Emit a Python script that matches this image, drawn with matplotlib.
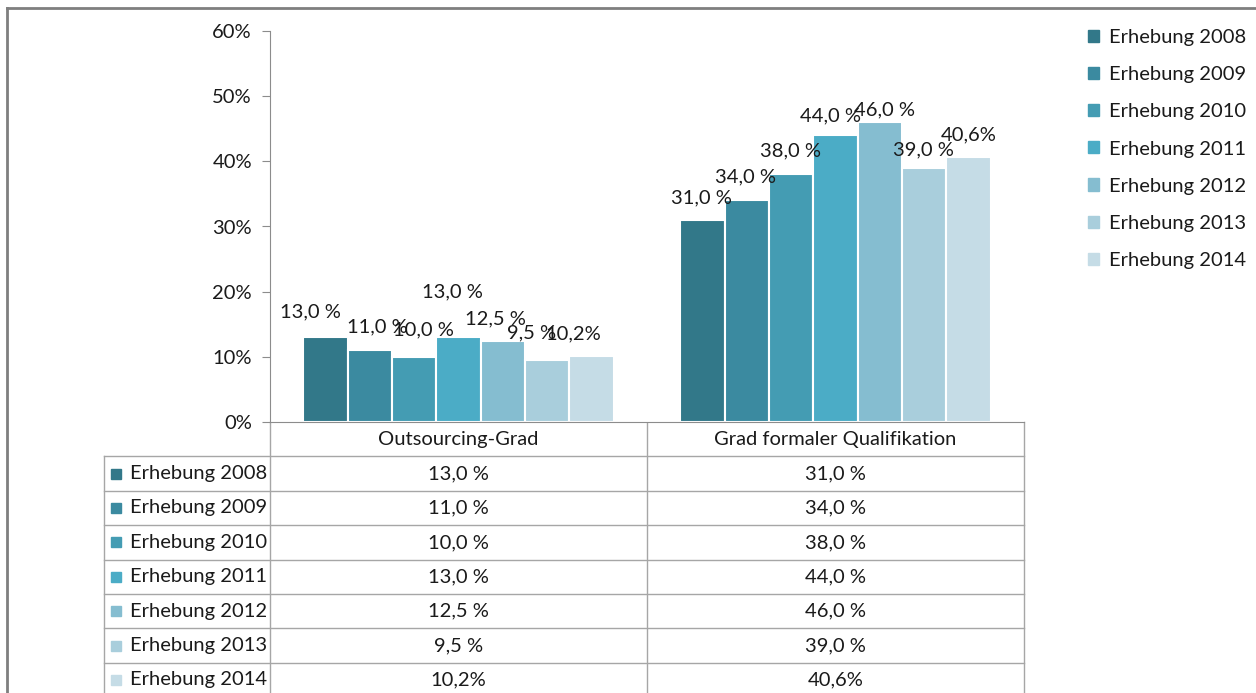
import numpy as np
import matplotlib
matplotlib.use("Agg")
import matplotlib.pyplot as plt
from matplotlib.patches import Rectangle
from matplotlib.lines import Line2D
from matplotlib.transforms import blended_transform_factory

plt.rcParams["font.family"] = ["Lato", "DejaVu Sans"]

categories = ["Outsourcing-Grad", "Grad formaler Qualifikation"]
series = ["Erhebung 2008", "Erhebung 2009", "Erhebung 2010", "Erhebung 2011",
          "Erhebung 2012", "Erhebung 2013", "Erhebung 2014"]
outsourcing = [13.0, 11.0, 10.0, 13.0, 12.5, 9.5, 10.2]
qualifikation = [31.0, 34.0, 38.0, 44.0, 46.0, 39.0, 40.6]
labels_out = ["13,0 %", "11,0 %", "10,0 %", "13,0 %", "12,5 %", "9,5 %", "10,2%"]
labels_qual = ["31,0 %", "34,0 %", "38,0 %", "44,0 %", "46,0 %", "39,0 %", "40,6%"]
colors = ["#327889", "#3B8AA0", "#449CB3", "#4BACC6", "#85BDD0", "#A9CEDC", "#C5DCE6"]

# label nudges in pixels (Excel placed a few labels off-centre)
nudge_x = [[-15, 7, 9, -6, -7, -16, -18], [-1, -1, -1, -5, 5, -1, 0]]
nudge_y = [[3, 1, 5, 23, 0, 5, 0], [0, 2, 1, -3, -10, -4, 1]]

W, H = 1256, 693
fs = 14.5
txt = "#1a1a1a"
fig = plt.figure(figsize=(W / 100, H / 100), dpi=100)

grey = "#8c8c8c"
ax = fig.add_axes([270 / W, 1 - 422 / H, (1024 - 270) / W, (422 - 31) / H])
ax.set_xlim(-0.5, 1.5)
ax.set_ylim(0, 60)
for s in ["top", "right"]:
    ax.spines[s].set_visible(False)
ax.spines["left"].set_color(grey)
ax.spines["bottom"].set_color(grey)
ax.set_yticks(np.arange(0, 61, 10))
ax.set_yticklabels([f"{v}%" for v in range(0, 61, 10)], fontsize=fs, color=txt)
ax.tick_params(axis="y", length=6, color=grey, pad=7)
ax.set_xticks([])

n = len(series)
bw = 0.1175
data = [outsourcing, qualifikation]
lab = [labels_out, labels_qual]
for i in range(n):
    xs = np.arange(2) + (i - (n - 1) / 2) * bw
    vals = [data[0][i], data[1][i]]
    ax.bar(xs, vals, width=bw, color=colors[i], edgecolor="white", linewidth=1.5, zorder=2)
    for g in range(2):
        ax.annotate(lab[g][i], (xs[g], vals[g]), xytext=(nudge_x[g][i] * 0.72, (22 + nudge_y[g][i]) * 0.72),
                    textcoords="offset points", ha="center", va="center", fontsize=fs, color=txt)

# legend on the right
handles = [Rectangle((0, 0), 1, 1, color=c) for c in colors]
fig.legend(handles, series, loc="upper left", bbox_to_anchor=(1070 / W, 1 - 11 / H), frameon=False,
           fontsize=fs, handlelength=0.55, handleheight=0.55, handletextpad=0.5, labelspacing=1.0,
           labelcolor=txt)

# data table below the chart
tab = fig.add_axes([0, 0, 1, 1], zorder=-1)
tab.set_xlim(0, W)
tab.set_ylim(H, 0)
tab.axis("off")
tr = blended_transform_factory(ax.transData, tab.transData)
line_c = "#a6a6a6"
row_h = 34.4
top = 422
x_left, x_ax, x_right = 104, 270, 1024

tab.plot([x_ax, x_ax], [top, H], color=line_c, lw=1)
tab.plot([x_right, x_right], [top, H], color=line_c, lw=1)
tab.plot([x_left, x_left], [top + row_h, H], color=line_c, lw=1)
tab.plot([0.5, 0.5], [top, H], color=line_c, lw=1, transform=tr)
for r in range(1, n + 1):
    y = top + r * row_h
    tab.plot([x_left, x_right], [y, y], color=line_c, lw=1)
for g, cat in enumerate(categories):
    tab.text(g, top + row_h / 2, cat, transform=tr, ha="center", va="center", fontsize=fs, color=txt)
for i in range(n):
    yc = top + (i + 1.5) * row_h
    tab.add_patch(Rectangle((111, yc - 5), 10, 10, color=colors[i]))
    tab.text(130, yc, series[i], ha="left", va="center", fontsize=fs, color=txt)
    for g in range(2):
        tab.text(g, yc, lab[g][i], transform=tr, ha="center", va="center", fontsize=fs, color=txt)

# outer frame
fig.add_artist(Line2D([7 / W, 7 / W], [0, 1 - 8 / H], color="#7f7f7f", lw=2))
fig.add_artist(Line2D([7 / W, 1], [1 - 8 / H, 1 - 8 / H], color="#7f7f7f", lw=2))

fig.savefig("out.png", dpi=100)
